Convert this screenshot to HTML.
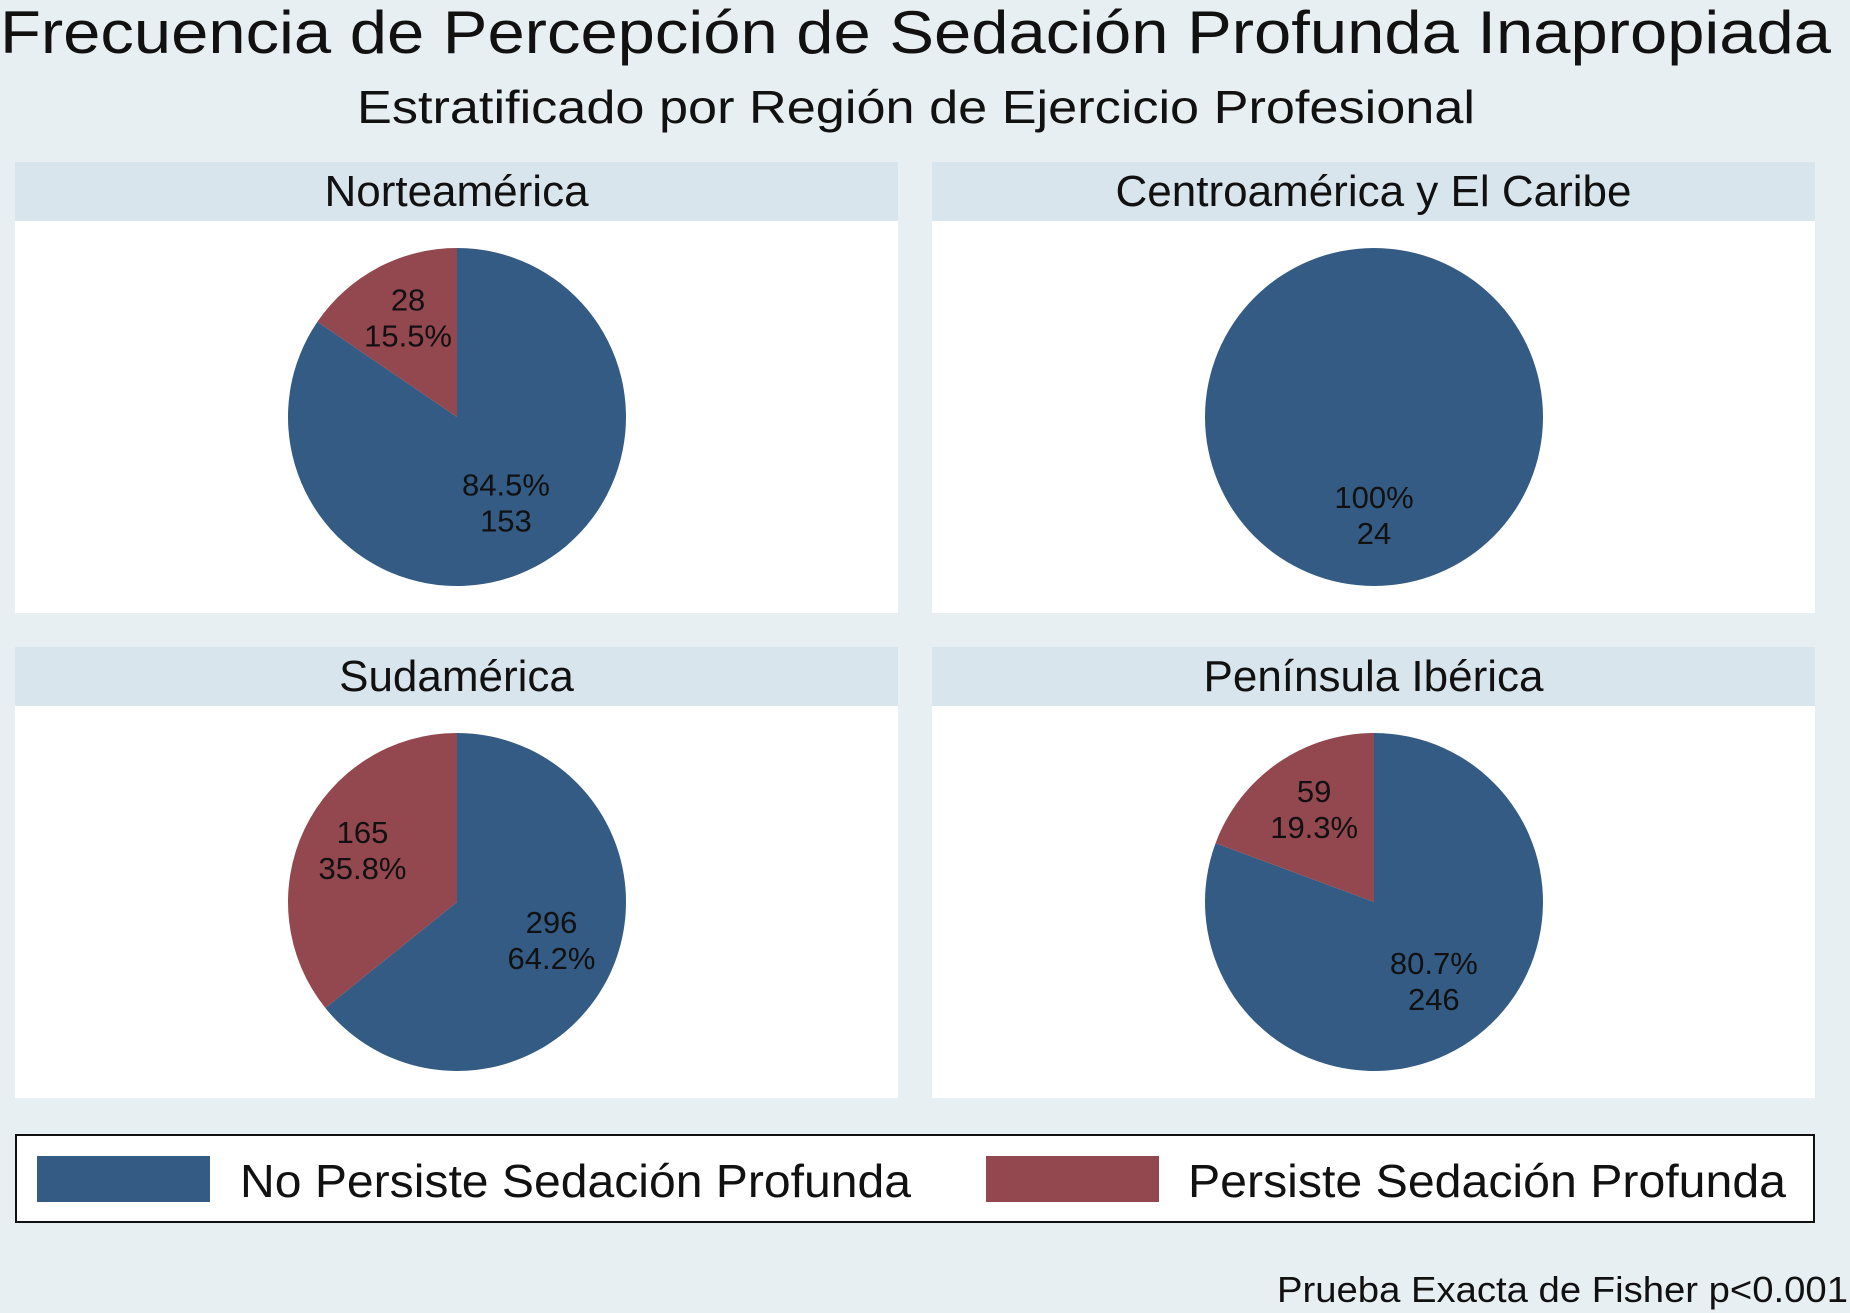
<!DOCTYPE html>
<html><head><meta charset="utf-8"><style>
html,body{margin:0;padding:0;background:#e8eff3;}
svg{display:block;font-family:"Liberation Sans",Arial,sans-serif;}
</style></head><body>
<svg id="chart" width="1850" height="1313" viewBox="0 0 1850 1313" xmlns="http://www.w3.org/2000/svg">
<rect x="0" y="0" width="1850" height="1313" fill="#e8eff3"/>
<text x="0" y="53" font-size="60" fill="#111" textLength="1831" lengthAdjust="spacingAndGlyphs">Frecuencia de Percepción de Sedación Profunda Inapropiada</text>
<text x="357" y="123" font-size="46" fill="#111" textLength="1118" lengthAdjust="spacingAndGlyphs">Estratificado por Región de Ejercicio Profesional</text>
<g id="panels"></g>
<g>
<rect x="16" y="1135" width="1798" height="87" fill="#fff" stroke="#111" stroke-width="2"/>
<rect x="37" y="1156" width="173" height="46" fill="#335b84"/>
<text x="240" y="1197" font-size="46" fill="#111" textLength="671" lengthAdjust="spacingAndGlyphs">No Persiste Sedación Profunda</text>
<rect x="986" y="1156" width="173" height="46" fill="#93474f"/>
<text x="1188" y="1197" font-size="46" fill="#111" textLength="598" lengthAdjust="spacingAndGlyphs">Persiste Sedación Profunda</text>
</g>
<text x="1848" y="1302" font-size="36" fill="#111" text-anchor="end" textLength="571" lengthAdjust="spacingAndGlyphs">Prueba Exacta de Fisher p&lt;0.001</text>
</svg>
<script>
const regions = ["Norteamérica", "Centroamérica y El Caribe", "Sudamérica", "Península Ibérica"];
const noPersiste = [153, 24, 296, 246];
const persiste = [28, 0, 165, 59];
const noPersistePct = ["84.5%", "100%", "64.2%", "80.7%"];
const persistePct = ["15.5%", "", "35.8%", "19.3%"];
const pctFirstBlue = [true, true, false, true];

const NS = "http://www.w3.org/2000/svg";
const g = document.getElementById("panels");
const colors = ["#335b84", "#93474f"];
function mk(tag, attrs){const e=document.createElementNS(NS,tag);for(const k in attrs)e.setAttribute(k,attrs[k]);return e;}
const panelX = [15, 932], panelY = [162, 647], pw = 883, hh = 59, ph = 451;
const R = 169;
function pt(cx, cy, frac, r){const a = frac*2*Math.PI; return [cx + r*Math.sin(a), cy - r*Math.cos(a)];}

regions.forEach((name, i) => {
  const px = panelX[i%2], py = panelY[Math.floor(i/2)];
  const panel = mk("g", {});
  
  
  const hdr = mk("rect", {x:px, y:py, width:pw, height:hh, fill:"#d9e5ec"});
  
  
  panel.appendChild(hdr);
  const ht = mk("text", {x:px+pw/2, y:py+44, "font-size":44, "text-anchor":"middle", fill:"#111"});
  ht.textContent = name;
  
  
  panel.appendChild(ht);
  const plot = mk("rect", {x:px, y:py+hh, width:pw, height:ph-hh, fill:"#fff"});
  
  
  panel.appendChild(plot);
  const cx = px + 442, cy = py + 255;
  const vals = [noPersiste[i], persiste[i]];
  const tot = vals[0] + vals[1];
  let start = 0;
  vals.forEach((v, s) => {
    if (v <= 0) return;
    const f = v / tot;
    let el;
    if (f >= 0.9999) {
      el = mk("circle", {cx:cx, cy:cy, r:R, fill:colors[s]});
    } else {
      const p0 = pt(cx, cy, start, R), p1 = pt(cx, cy, start+f, R);
      el = mk("path", {d:`M${cx},${cy} L${p0[0]},${p0[1]} A${R},${R} 0 ${f>0.5?1:0} 1 ${p1[0]},${p1[1]} Z`, fill:colors[s]});
    }
    
    
    panel.appendChild(el);
    const mid = start + f/2;
    const lp = pt(cx, cy, mid, R*0.62);
    const pct = s===0 ? noPersistePct[i] : persistePct[i];
    const lines = (s===0 && pctFirstBlue[i]) ? [pct, String(v)] : [String(v), pct];
    lines.forEach((ln, k) => {
      const t = mk("text", {x:lp[0], y:lp[1] + (k===0 ? -14 : 22), "font-size":31, "text-anchor":"middle", fill:"#111"});
      t.textContent = ln;
      
      
      panel.appendChild(t);
    });
    start += f;
  });
  g.appendChild(panel);
});
</script>
</body></html>
